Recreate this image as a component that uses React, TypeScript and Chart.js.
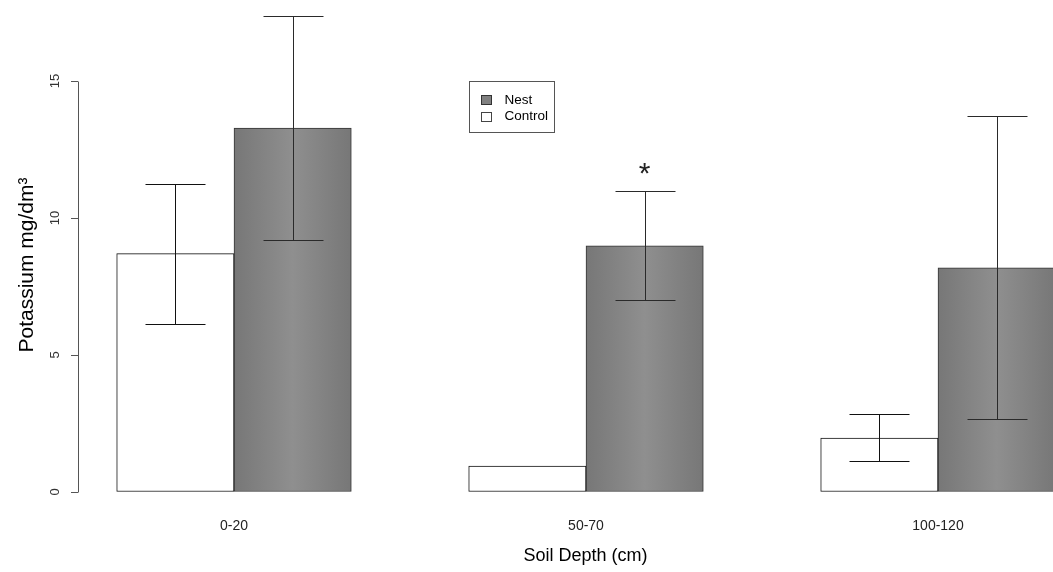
import React, { useEffect, useRef } from "react";
import { Chart, registerables } from "chart.js";

Chart.register(...registerables);

// ---- data ----
const categories = ["0-20", "50-70", "100-120"];
const seriesNames = ["Control", "Nest"];
const controlValues = [8.7, 0.95, 1.97];
const nestValues = [13.28, 8.98, 8.18];
const controlLow: (number | null)[] = [6.13, null, 1.13];
const controlHigh: (number | null)[] = [11.25, null, 2.83];
const nestLow: (number | null)[] = [9.2, 7.0, 2.65];
const nestHigh: (number | null)[] = [17.37, 10.97, 13.72];
const nestSignificance = ["", "*", ""];
const yTickStep = 5;
const yTickLast = 15;
const xTitle = "Soil Depth (cm)";
const yTitle = "Potassium mg/dm³";

// ---- styles ----
const FONT = "'Liberation Sans', Arial, Helvetica, sans-serif";
const BAR_W = 117.3;
const CAP_HALF = 30;
const CANVAS_W = 1093;
const CANVAS_H = 572;
const TOP_PAD = 38;

const nestFill = (c: any) => {
  const chart = c.chart;
  const xs = chart.scales && chart.scales.x;
  if (!xs || c.dataIndex == null) return "#808080";
  const left = xs.getPixelForValue(c.dataIndex);
  if (!Number.isFinite(left)) return "#808080";
  const g = chart.ctx.createLinearGradient(left, 0, left + BAR_W, 0);
  g.addColorStop(0, "#777777");
  g.addColorStop(0.5, "#8f8f8f");
  g.addColorStop(1, "#777777");
  return g;
};

const axisLinePlugin = {
  id: "axisLine",
  afterDraw(chart: any) {
    const { ctx, chartArea } = chart;
    const ys = chart.scales.y;
    const ticks = ys.ticks;
    if (!ticks.length) return;
    const yTop = Math.round(ys.getPixelForValue(ticks[ticks.length - 1].value)) + 0.5;
    const yBot = Math.round(ys.getPixelForValue(ticks[0].value)) + 0.5;
    const x = Math.round(chartArea.left) + 0.5;
    ctx.save();
    ctx.strokeStyle = "#555";
    ctx.lineWidth = 1;
    ctx.beginPath();
    ctx.moveTo(x, yTop);
    ctx.lineTo(x, yBot);
    ctx.stroke();
    ctx.restore();
  },
};

const errorBarPlugin = {
  id: "errorBars",
  afterDatasetsDraw(chart: any) {
    const { ctx } = chart;
    const ys = chart.scales.y;
    const sets = [
      { low: controlLow, high: controlHigh, color: "#111" },
      { low: nestLow, high: nestHigh, color: "#2a2a2a" },
    ];
    ctx.save();
    ctx.lineWidth = 1;
    sets.forEach((s, di) => {
      const meta = chart.getDatasetMeta(di);
      meta.data.forEach((bar: any, i: number) => {
        const lo = s.low[i];
        const hi = s.high[i];
        if (lo == null || hi == null) return;
        const x = Math.round(bar.x) + 0.5;
        const y1 = Math.round(ys.getPixelForValue(lo)) + 0.5;
        const y2 = Math.round(ys.getPixelForValue(hi)) + 0.5;
        ctx.strokeStyle = s.color;
        ctx.beginPath();
        ctx.moveTo(x, y1);
        ctx.lineTo(x, y2);
        ctx.moveTo(x - CAP_HALF, y1);
        ctx.lineTo(x + CAP_HALF, y1);
        ctx.moveTo(x - CAP_HALF, y2);
        ctx.lineTo(x + CAP_HALF, y2);
        ctx.stroke();
      });
    });
    const meta = chart.getDatasetMeta(1);
    ctx.fillStyle = "#222";
    ctx.font = `30px ${FONT}`;
    ctx.textAlign = "center";
    ctx.textBaseline = "alphabetic";
    meta.data.forEach((bar: any, i: number) => {
      const mark = nestSignificance[i];
      if (!mark) return;
      const top = nestHigh[i] != null ? (nestHigh[i] as number) : nestValues[i];
      const cy = ys.getPixelForValue(top) - 23;
      const m = ctx.measureText(mark);
      const asc = m.actualBoundingBoxAscent;
      const desc = m.actualBoundingBoxDescent;
      const base = cy + (asc - desc) / 2;
      ctx.fillText(mark, bar.x, base);
    });
    ctx.restore();
  },
};

const legendPlugin = {
  id: "boxLegend",
  afterDraw(chart: any) {
    const { ctx } = chart;
    const xs = chart.scales.x;
    const ys = chart.scales.y;
    const left = Math.round(xs.getPixelForValue(1) - BAR_W) + 0.5;
    const top = Math.round(ys.getPixelForValue(yTickLast)) + 0.5;
    const w = 85;
    const h = 51;
    ctx.save();
    ctx.fillStyle = "#fff";
    ctx.fillRect(left, top, w, h);
    ctx.strokeStyle = "#555";
    ctx.lineWidth = 1;
    ctx.strokeRect(left, top, w, h);
    const items = [
      { label: chart.data.datasets[1].label, fill: "#808080", stroke: "#333" },
      { label: chart.data.datasets[0].label, fill: "#ffffff", stroke: "#444" },
    ];
    ctx.font = `13.5px ${FONT}`;
    ctx.textBaseline = "middle";
    ctx.textAlign = "left";
    items.forEach((it, k) => {
      const cy = top + 18.5 + k * 16.5;
      ctx.fillStyle = it.fill;
      ctx.fillRect(left + 12, Math.round(cy - 5), 10, 9);
      ctx.strokeStyle = it.stroke;
      ctx.strokeRect(left + 12, Math.round(cy - 5) + 0.5, 10, 9);
      ctx.fillStyle = "#000";
      ctx.fillText(it.label, left + 35, cy);
    });
    ctx.restore();
  },
};

export default function App() {
  const ref = useRef<HTMLCanvasElement>(null);

  useEffect(() => {
    const canvas = ref.current;
    if (!canvas) return;
    Chart.defaults.font.family = FONT;
    const chart = new Chart(canvas, {
      type: "bar",
      data: {
        datasets: [
          {
            label: seriesNames[0],
            data: controlValues.map((v, i) => ({ x: i, y: v })),
            backgroundColor: "#ffffff",
            borderColor: "#111",
            borderWidth: 1,
            borderSkipped: false,
            barThickness: BAR_W,
          },
          {
            label: seriesNames[1],
            data: nestValues.map((v, i) => ({ x: i, y: v })),
            backgroundColor: nestFill,
            borderColor: "#333",
            borderWidth: 1,
            borderSkipped: false,
            barThickness: BAR_W,
          },
        ],
      },
      options: {
        animation: false,
        responsive: false,
        maintainAspectRatio: false,
        events: [],
        layout: { padding: { top: TOP_PAD, right: 0, bottom: 0, left: 0 } },
        plugins: {
          legend: { display: false },
          tooltip: { enabled: false },
          title: { display: false },
        },
        scales: {
          x: {
            type: "linear",
            min: -156 / 352,
            max: (CANVAS_W - 234) / 352,
            offset: false,
            grid: { display: false },
            border: { display: false },
            afterBuildTicks: (scale: any) => {
              scale.ticks = categories.map((_, i) => ({ value: i }));
            },
            afterFit: (scale: any) => {
              scale.height = CANVAS_H - 492;
            },
            ticks: {
              autoSkip: false,
              maxRotation: 0,
              minRotation: 0,
              padding: 18,
              color: "#222",
              font: { size: 14 },
              callback: (v: any) => categories[v] ?? "",
            },
            title: {
              display: true,
              text: xTitle,
              color: "#000",
              font: { size: 18 },
              padding: { top: 0, bottom: 5 },
            },
          },
          y: {
            type: "linear",
            min: 0,
            max: (492 - TOP_PAD) / 27.4,
            grid: {
              display: true,
              drawOnChartArea: false,
              drawTicks: true,
              tickLength: 7,
              color: "#555",
            },
            border: { display: false },
            afterFit: (scale: any) => {
              scale.width = 78;
            },
            ticks: {
              stepSize: yTickStep,
              includeBounds: false,
              minRotation: 90,
              maxRotation: 90,
              crossAlign: "center",
              padding: 8,
              color: "#333",
              font: { size: 13 },
            },
            title: {
              display: true,
              text: yTitle,
              color: "#000",
              font: { size: 21 },
              padding: { top: 15, bottom: 0 },
            },
          },
        },
      },
      plugins: [axisLinePlugin, errorBarPlugin, legendPlugin],
    } as any);
    return () => chart.destroy();
  }, []);

  return (
    <div
      style={{
        position: "fixed",
        left: 0,
        top: 0,
        width: 1053,
        height: CANVAS_H,
        overflow: "hidden",
        background: "#fff",
      }}
    >
      <canvas
        ref={ref}
        width={CANVAS_W}
        height={CANVAS_H}
        style={{ display: "block", width: CANVAS_W, height: CANVAS_H }}
      />
    </div>
  );
}
